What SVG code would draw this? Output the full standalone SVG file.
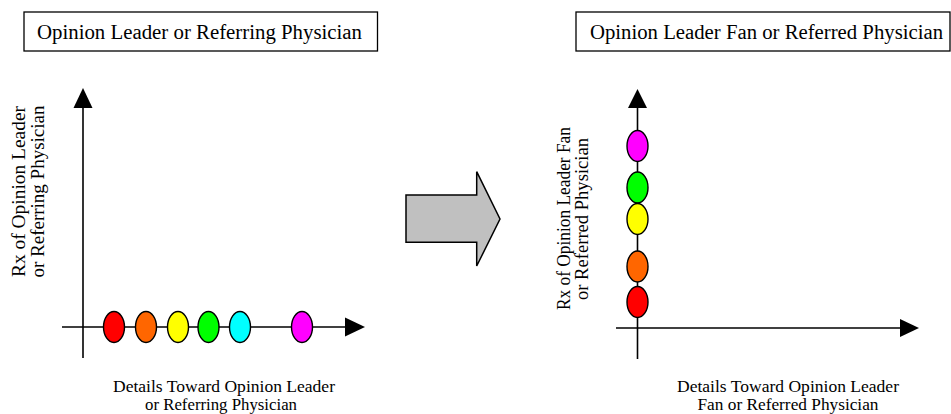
<svg xmlns="http://www.w3.org/2000/svg" width="951" height="414" viewBox="0 0 951 414">
<style>
text{font-family:"Liberation Serif","Times New Roman",serif;fill:#000}
.title{font-size:20.8px;text-anchor:middle}
.lbl{font-size:17.5px;text-anchor:middle}
.vlbl{font-size:18.5px;text-anchor:middle}
.box{fill:#fff;stroke:#000;stroke-width:1.3}
.axis{stroke:#000;stroke-width:1.6;fill:none}
.head{fill:#000;stroke:none}
.dot{stroke:#000;stroke-width:1.4}
</style>
<rect width="951" height="414" fill="#fff"/>
<g id="title-left">
<rect class="box" x="24" y="12" width="353.5" height="39"/>
<text class="title" x="199.5" y="39" textLength="325" lengthAdjust="spacingAndGlyphs">Opinion Leader or Referring Physician</text>
</g>
<g id="title-right">
<rect class="box" x="576" y="12" width="374" height="39"/>
<text class="title" x="766.5" y="39" textLength="353" lengthAdjust="spacingAndGlyphs">Opinion Leader Fan or Referred Physician</text>
</g>
<g id="connectors">
<line class="axis" x1="83" y1="105" x2="83" y2="358"/>
<polygon class="head" points="83,88 73.5,108 92.5,108"/>
<line class="axis" x1="62" y1="327" x2="348" y2="327"/>
<polygon class="head" points="365,327 345,317.5 345,336.5"/>
<line class="axis" x1="637.5" y1="105" x2="637.5" y2="359"/>
<polygon class="head" points="637.5,89 628,108 647,108"/>
<line class="axis" x1="616" y1="328" x2="903" y2="328"/>
<polygon class="head" points="919,328 900,319 900,337"/>
</g>
<g id="transition-arrow">
<polygon points="406,195 476.7,195 476.7,171.7 500,219 476.7,266 476.7,242.3 406,242.3" fill="#c0c0c0" stroke="#000" stroke-width="1.5"/>
</g>
<g id="dots-left">
<ellipse class="dot" cx="114" cy="327" rx="10.5" ry="15.5" fill="#ff0000"/>
<ellipse class="dot" cx="146" cy="327" rx="10.5" ry="15.5" fill="#ff6600"/>
<ellipse class="dot" cx="178" cy="327" rx="10.5" ry="15.5" fill="#ffff00"/>
<ellipse class="dot" cx="208.5" cy="327" rx="10.5" ry="15.5" fill="#00ff00"/>
<ellipse class="dot" cx="240" cy="327" rx="10.5" ry="15.5" fill="#00ffff"/>
<ellipse class="dot" cx="302" cy="327" rx="10.5" ry="15.5" fill="#ff00ff"/>
</g>
<g id="dots-right">
<ellipse class="dot" cx="637.5" cy="146" rx="10.5" ry="15.5" fill="#ff00ff"/>
<ellipse class="dot" cx="637.5" cy="187.5" rx="10.5" ry="15.5" fill="#00ff00"/>
<ellipse class="dot" cx="637.5" cy="219" rx="10.5" ry="15.5" fill="#ffff00"/>
<ellipse class="dot" cx="637.5" cy="266.5" rx="10.5" ry="15.5" fill="#ff6600"/>
<ellipse class="dot" cx="637.5" cy="302" rx="10.5" ry="15.5" fill="#ff0000"/>
</g>
<g id="ylabel-left">
<text class="vlbl" transform="translate(25,191.5) rotate(-90)" textLength="171" lengthAdjust="spacingAndGlyphs">Rx of Opinion Leader</text>
<text class="vlbl" transform="translate(43.5,191.5) rotate(-90)" textLength="172" lengthAdjust="spacingAndGlyphs">or Referring Physician</text>
</g>
<g id="xlabel-left">
<text class="lbl" x="224" y="392" textLength="222" lengthAdjust="spacingAndGlyphs">Details Toward Opinion Leader</text>
<text class="lbl" x="221" y="410" textLength="152" lengthAdjust="spacingAndGlyphs">or Referring Physician</text>
</g>
<g id="ylabel-right">
<text class="vlbl" transform="translate(570,218.5) rotate(-90)" textLength="183" lengthAdjust="spacingAndGlyphs">Rx of Opinion Leader Fan</text>
<text class="vlbl" transform="translate(588,219) rotate(-90)" textLength="162" lengthAdjust="spacingAndGlyphs">or Referred Physician</text>
</g>
<g id="xlabel-right">
<text class="lbl" x="788" y="392" textLength="222" lengthAdjust="spacingAndGlyphs">Details Toward Opinion Leader</text>
<text class="lbl" x="788" y="410" textLength="181" lengthAdjust="spacingAndGlyphs">Fan or Referred Physician</text>
</g>
</svg>
